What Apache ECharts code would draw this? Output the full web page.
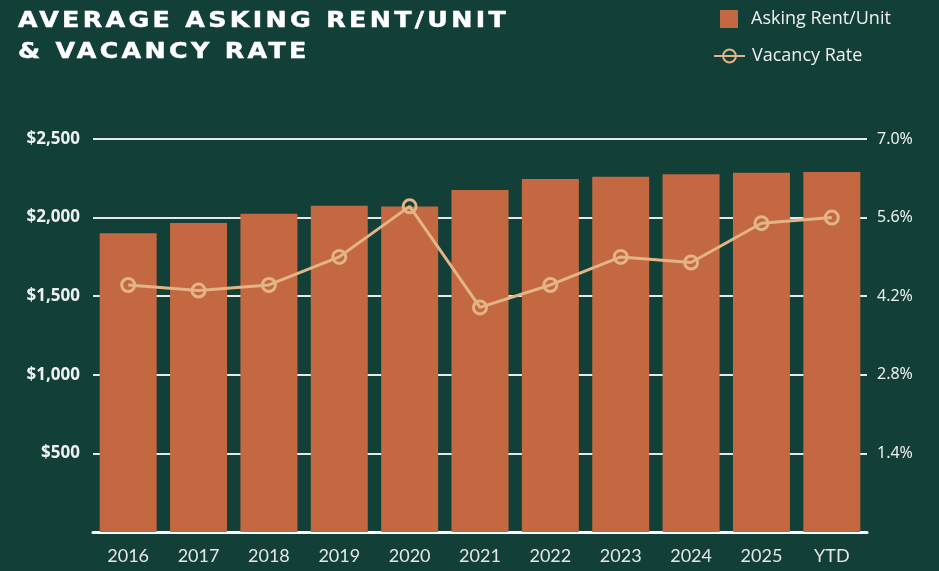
<!DOCTYPE html>
<html>
<head>
<meta charset="utf-8">
<script src="https://cdn.jsdelivr.net/npm/echarts@6/dist/echarts.min.js"></script>
<style>
html,body{margin:0;padding:0;background:#123f37;}
#wrap{position:relative;width:939px;height:571px;}
#chart{width:939px;height:571px;}
#title{position:absolute;left:18px;top:4px;margin:0;color:#ffffff;
  font-family:'DejaVu Sans',sans-serif;font-weight:bold;font-size:22px;line-height:31px;
  letter-spacing:2.9px;white-space:pre;pointer-events:none;
  transform:scaleX(1.15);transform-origin:0 0;-webkit-text-stroke:0.5px #ffffff;}
</style>
</head>
<body>
<div id="wrap">
<div id="chart"></div>
<h1 id="title">AVERAGE ASKING RENT/UNIT
&amp; VACANCY RATE</h1>
</div>
<script>
const categories = ['2016','2017','2018','2019','2020','2021','2022','2023','2024','2025','YTD'];
const askingRent = [1900, 1965, 2025, 2075, 2070, 2175, 2245, 2260, 2275, 2285, 2290];
const vacancyRate = [4.4, 4.3, 4.4, 4.9, 5.8, 4.0, 4.4, 4.9, 4.8, 5.5, 5.6];
const rentTicks = [500, 1000, 1500, 2000, 2500];
const rateTicks = [1.4, 2.8, 4.2, 5.6, 7.0];

const BG = '#123f37';
const BAR = '#c46842';
const LINE = '#e2b486';

const chart = echarts.init(document.getElementById('chart'));
chart.setOption({
  backgroundColor: BG,
  animation: false,
  legend: [
    {
      data: ['Asking Rent/Unit'],
      left: 720, top: 10, padding: 0,
      itemWidth: 18, itemHeight: 18,
      icon: 'rect',
      textStyle: { color: '#f0f0f0', fontFamily: 'Open Sans', fontSize: 18, padding: [0,0,0,8] }
    },
    {
      data: ['Vacancy Rate'],
      left: 713, top: 47, padding: 0,
      itemWidth: 31, itemHeight: 16,
      textStyle: { color: '#f0f0f0', fontFamily: 'Open Sans', fontSize: 18, padding: [0,0,0,2] }
    }
  ],
  grid: { left: 93, right: 72, top: 139, bottom: 39, containLabel: false },
  xAxis: {
    type: 'category',
    data: categories,
    axisLine: { lineStyle: { color: '#ffffff', width: 3 } },
    axisTick: { show: false },
    axisLabel: { color: '#e6e6e6', fontFamily: 'Lato', fontSize: 18, margin: 15 }
  },
  yAxis: [
    {
      type: 'value', min: 0, max: 2500, interval: 500,
      axisLine: { show: false }, axisTick: { show: false },
      splitLine: { lineStyle: { color: '#e8e8e8', width: 2 } },
      axisLabel: {
        color: '#f0f0f0', fontFamily: 'Noto Sans', fontWeight: 'bold', fontSize: 17, margin: 13,
        formatter: v => rentTicks.includes(v) ? '$' + v.toLocaleString('en-US') : ''
      }
    },
    {
      type: 'value', min: 0, max: 7, interval: 1.4,
      axisLine: { show: false }, axisTick: { show: false },
      splitLine: { show: false },
      axisLabel: {
        color: '#f0f0f0', fontFamily: 'Noto Sans', fontSize: 16, margin: 10,
        formatter: v => {
          const r = Math.round(v * 10) / 10;
          return rateTicks.some(t => Math.abs(t - r) < 1e-6) ? r.toFixed(1) + '%' : '';
        }
      }
    }
  ],
  series: [
    {
      name: 'Asking Rent/Unit',
      type: 'bar',
      data: askingRent,
      yAxisIndex: 0,
      barCategoryGap: '19%',
      itemStyle: { color: BAR }
    },
    {
      name: 'Vacancy Rate',
      type: 'line',
      data: vacancyRate,
      yAxisIndex: 1,
      symbol: 'circle',
      symbolSize: 13,
      lineStyle: { color: LINE, width: 3 },
      itemStyle: { color: 'rgba(0,0,0,0)', borderColor: LINE, borderWidth: 3 },
      z: 3
    }
  ]
});
</script>
</body>
</html>
